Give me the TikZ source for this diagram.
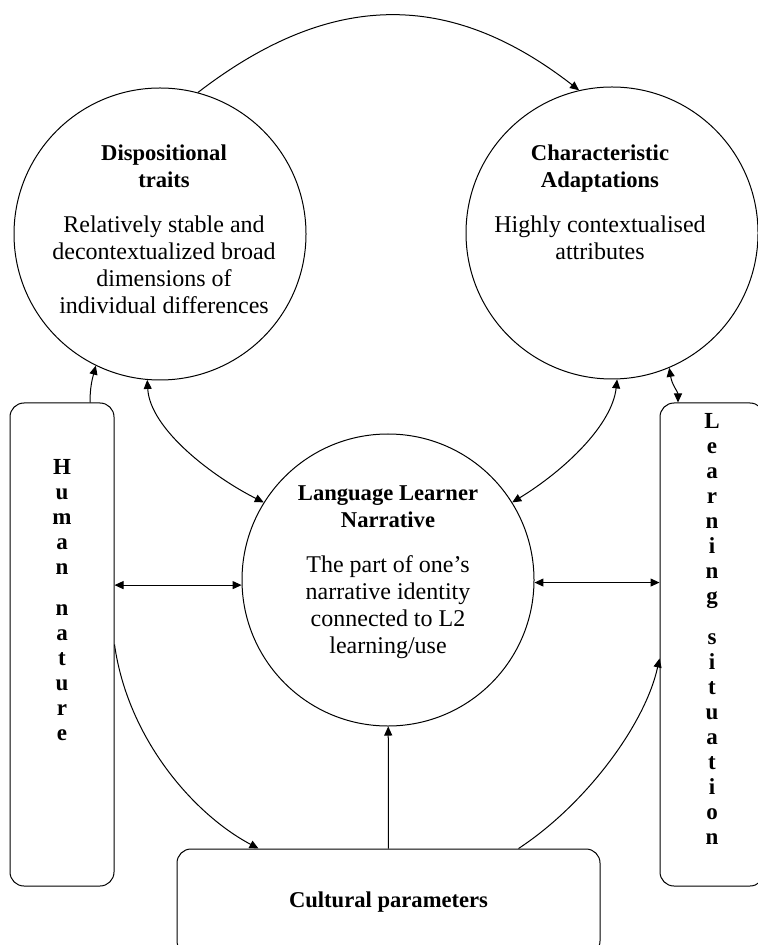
\documentclass[tikz,border=0pt]{standalone}
\usepackage{fontspec}
\setmainfont{Liberation Serif}
\usetikzlibrary{arrows.meta,positioning}

\begin{document}
\begin{tikzpicture}[x=0.5pt,y=-0.5pt,line width=0.5pt,>={Triangle[length=4.5pt,width=4pt]},
	  font=\fontsize{12pt}{13.5pt}\selectfont]
	  \tikzstyle{bubble}=[circle,draw=black,minimum size=146pt,inner sep=0pt]
	  \tikzstyle{side}=[rectangle,draw=black,rounded corners=7pt,minimum width=52pt,minimum height=241.5pt]
	  \tikzstyle{txt}=[align=center,inner sep=0pt]
	  \tikzstyle{letters}=[txt,font=\fontsize{11.5pt}{12.5pt}\selectfont\bfseries]
	  \newcommand{\hd}[1]{{\fontsize{11.3pt}{13.5pt}\selectfont\bfseries #1}}

	  \useasboundingbox (0,0) rectangle (758,945);
	  \clip (0,0) rectangle (758,945);

	  \node[bubble] (DT) at (160,234) {};
	  \node[bubble] (CA) at (612,233) {};
	  \node[bubble] (LLN) at (388,580) {};
	  \node[side] (HN) at (62,644.5) {};
	  \node[side] (LS) at (712,644.5) {};
	  \node[rectangle,draw=black,rounded corners=7pt,minimum width=211.5pt,minimum height=53pt] (CP) at (388.5,902) {\hd{Cultural parameters}};

	  \node[txt] (DTtext) at (164,229) {\hd{Dispositional}\\ \hd{traits}\\[9pt] Relatively stable and\\ decontextualized broad\\ dimensions of\\ individual differences};
	  \node[txt] (CAtext) at (600,202.5) {\hd{Characteristic}\\ \hd{Adaptations}\\[9pt] Highly contextualised\\ attributes};
	  \node[txt] (LLNtext) at (388,572) {\hd{Language Learner}\\ \hd{Narrative}\\[9pt] The part of one’s\\ narrative identity\\ connected to L2\\ learning/use};
	  \node[letters] (HNtext) at (62,600.5) {H\\u\\m\\a\\n\\[8pt]n\\a\\t\\u\\r\\e};
	  \node[letters] (LStext) at (712,629) {L\\e\\a\\r\\n\\i\\n\\g\\[8pt]s\\i\\t\\u\\a\\t\\i\\o\\n};

	  \draw[->] (DT.75) .. controls (331,-10) and (450,-10) .. (CA.103);
	  \draw[->] ([xshift=14pt]HN.north) .. controls (90,388) and (92,380) .. (DT.244);
	  \draw[<->] (DT.265) .. controls (150,430) and (215,478) .. (LLN.148);
	  \draw[<->] (CA.272) .. controls (612,425) and (565,470) .. (LLN.32);
	  \draw[<->] (CA.293) .. controls (672,385) and (678,392) .. ([xshift=-17pt]LS.north);
	  \draw[<->] (HN.east |- LLN.182) -- (LLN.182);
	  \draw[<->] (LLN.-1) -- (LS.west |- LLN.-1);
	  \draw[->] (HN.east) .. controls (128,740) and (195,815) .. ([xshift=-65pt]CP.north);
	  \draw[->] ([xshift=65pt]CP.north) .. controls (585,805) and (645,725) .. ([yshift=-7pt]LS.west);
	  \draw[->] (CP) -- (LLN);
	\end{tikzpicture}
\end{document}
